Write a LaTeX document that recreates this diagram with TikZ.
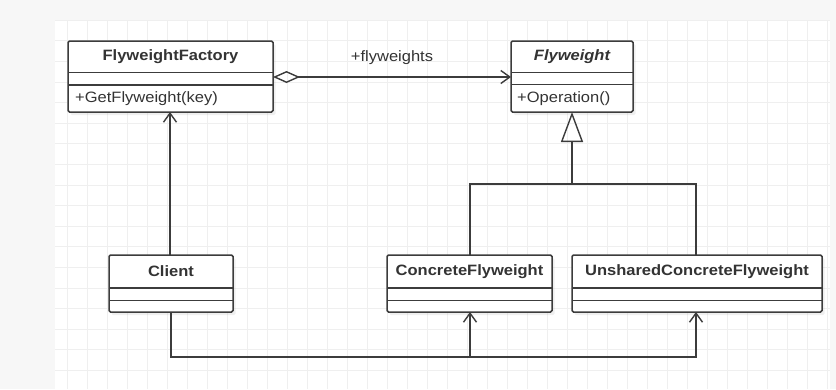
\documentclass[tikz,border=0pt]{standalone}
\usepackage{fontspec}
\setmainfont{Liberation Sans}[FakeStretch=1.1]
\usetikzlibrary{arrows.meta,shadows}

\definecolor{linec}{HTML}{3C3C3C}
\definecolor{textc}{HTML}{333333}
\definecolor{paper}{HTML}{F7F7F7}
\definecolor{gridc}{HTML}{EFEFEF}

\tikzset{
  cls/.style={draw=linec, line width=1.5pt, rounded corners=1.5pt, fill=white,
    inner sep=0pt, outer sep=0pt,
    drop shadow={shadow xshift=2.5pt, shadow yshift=-3pt, opacity=0.12}},
  sepline/.style={draw=linec, line width=1.5pt},
  title/.style={font=\fontsize{15}{18}\selectfont\bfseries, text=textc},
  member/.style={font=\fontsize{15}{18}\selectfont, text=textc, anchor=west, inner sep=0pt},
  conn/.style={draw=linec, line width=1.5pt},
  openhead/.style={-{Straight Barb[length=9pt,width=13pt,line width=1.4pt]}},
}

% class box: name, left, top, right, bottom, first separator, second separator
\newcommand\classbox[7]{%
  \node[cls, minimum width={#4-#2}, minimum height={#5-#3}] (#1)
    at ({(#2+#4)/2},{(#3+#5)/2}) {};
  \draw[sepline] (#1.west |- 0,#6) -- (#1.east |- 0,#6);
  \draw[sepline] (#1.west |- 0,#7) -- (#1.east |- 0,#7);
}

\begin{document}
\begin{tikzpicture}[x=1pt, y=-1pt]
  % page and drawing grid
  \fill[paper] (0,0) rectangle (836,389);
  \useasboundingbox (0,0) rectangle (836,389);
  \fill[white] (55,20) rectangle (830,389);
  \foreach \gx in {67,87,...,827} \draw[gridc, line width=0.6pt] (\gx,20) -- (\gx,389);
  \foreach \gi in {0,...,17} \draw[gridc, line width=0.6pt] (55,{20+20.6*\gi}) -- (830,{20+20.6*\gi});

  % classes
  \classbox{factory}{68}{41}{273}{112}{72.5}{85}
  \node[title] (factoryname) at (170.5,57) {FlyweightFactory};
  \node[member] (factoryop) at (75,99) {+GetFlyweight(key)};

  \classbox{flyweight}{511}{41}{633}{112}{72.5}{84.5}
  \node[title] (flyweightname) at (572,57) {\itshape Flyweight};
  \node[member] (flyweightop) at (517,99) {+Operation()};

  \classbox{client}{109}{255}{233}{312}{288}{300.5}
  \node[title] (clientname) at (171,271.5) {Client};

  \classbox{concrete}{387}{255}{552}{312}{288}{300.5}
  \node[title] (concretename) at (469.5,271.5) {ConcreteFlyweight};

  \classbox{unshared}{572}{255}{822}{312}{288}{300.5}
  \node[title] (unsharedname) at (697,271.5) {UnsharedConcreteFlyweight};

  % aggregation: factory holds the flyweights
  \draw[conn, {Diamond[open,length=27pt,width=12pt,line width=1.4pt]}-{Straight Barb[length=9pt,width=13pt,line width=1.4pt]}]
    (factory.east |- 0,77) -- (flyweight.west |- 0,77)
    node[midway, above=8pt, font=\fontsize{15}{18}\selectfont, text=textc] (rolelabel) {+flyweights};

  % client uses the factory
  \draw[conn, openhead] (client.north -| 170,0) -- (factory.south -| 170,0);

  % generalization to Flyweight
  \coordinate (gen) at (572,184);
  \draw[conn, -{Triangle[open,length=30pt,width=22pt,line width=1.4pt]}] (gen) -- (flyweight.south -| gen);
  \draw[conn] (concrete.north -| 470,0) |- (gen) -| (unshared.north -| 696,0);

  % client references to the concrete flyweights
  \coordinate (busa) at (470,357);
  \draw[conn, openhead] (client.south -| 171,0) |- (busa) -- (concrete.south -| busa);
  \draw[conn, openhead] (busa) -| (unshared.south -| 696,0);
\end{tikzpicture}
\end{document}
